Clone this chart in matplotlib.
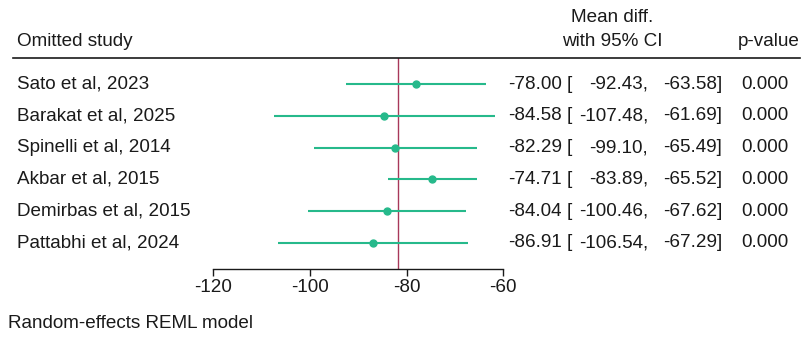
import numpy as np
import matplotlib.pyplot as plt
from matplotlib.lines import Line2D
import matplotlib.transforms as mtransforms

plt.rcParams['font.family'] = ['Liberation Sans', 'DejaVu Sans']

# data
studies = ["Sato et al, 2023", "Barakat et al, 2025", "Spinelli et al, 2014",
           "Akbar et al, 2015", "Demirbas et al, 2015", "Pattabhi et al, 2024"]
mean_diff = [-78.00, -84.58, -82.29, -74.71, -84.04, -86.91]
ci_low = [-92.43, -107.48, -99.10, -83.89, -100.46, -106.54]
ci_high = [-63.58, -61.69, -65.49, -65.52, -67.62, -67.29]
p_values = [0.000, 0.000, 0.000, 0.000, 0.000, 0.000]
overall = -81.86
xticks = [-120, -100, -80, -60]

W, H = 810, 338
fs = 13.6
green = "#26b98b"
txt = "#1a1a1a"

fig = plt.figure(figsize=(W / 100, H / 100), dpi=100)
# forest panel, placed in pixel terms
left, right, top, bottom = 213, 503.3, 58, 269.3
ax = fig.add_axes([left / W, 1 - bottom / H, (right - left) / W, (bottom - top) / H])

rows = np.arange(len(studies))
ax.hlines(rows, ci_low, ci_high, color=green, lw=1.5, zorder=2)
ax.plot(mean_diff, rows, 'o', color=green, ms=5, zorder=3)
ax.axvline(overall, color="#a8385a", lw=1, zorder=1)

ax.set_xlim(-120, -60)
ax.set_ylim(5.84, -0.83)
for s in ["top", "left", "right"]:
    ax.spines[s].set_visible(False)
ax.spines["bottom"].set_linewidth(1)
ax.spines["bottom"].set_color(txt)
ax.set_xticks(xticks)
ax.set_xticklabels([f"{t:g}" for t in xticks])
ax.tick_params(axis="x", length=5, width=1, pad=2, labelsize=fs, colors=txt)
ax.set_yticks([])
ax.patch.set_alpha(0)

# text columns: x in figure fraction, y in row data coordinates
tr = mtransforms.blended_transform_factory(fig.transFigure, ax.transData)
for i in rows:
    fig.text(17 / W, i, studies[i], transform=tr, ha="left", va="center", fontsize=fs, color=txt)
    fig.text(562 / W, i, f"{mean_diff[i]:.2f}", transform=tr, ha="right", va="center", fontsize=fs, color=txt)
    fig.text(567 / W, i, "[", transform=tr, ha="left", va="center", fontsize=fs, color=txt)
    fig.text(648 / W, i, f"{ci_low[i]:.2f},", transform=tr, ha="right", va="center", fontsize=fs, color=txt)
    fig.text(722 / W, i, f"{ci_high[i]:.2f}]", transform=tr, ha="right", va="center", fontsize=fs, color=txt)
    fig.text(765 / W, i, f"{p_values[i]:.3f}", transform=tr, ha="center", va="center", fontsize=fs, color=txt)

# headers
fig.text(17 / W, 1 - 42 / H, "Omitted study", ha="left", va="center", fontsize=fs, color=txt)
fig.text(612 / W, 1 - 18 / H, "Mean diff.", ha="center", va="center", fontsize=fs, color=txt)
fig.text(612 / W, 1 - 42 / H, "with 95% CI", ha="center", va="center", fontsize=fs, color=txt)
fig.text(800 / W, 1 - 42 / H, "p-value", ha="right", va="center", fontsize=fs, color=txt)
fig.add_artist(Line2D([13 / W, 800 / W], [1 - 58 / H, 1 - 58 / H], transform=fig.transFigure,
                      color=txt, lw=1.2))

fig.text(8 / W, 1 - 324 / H, "Random-effects REML model", ha="left", va="center", fontsize=fs, color=txt)

plt.savefig("out.png", dpi=100)
